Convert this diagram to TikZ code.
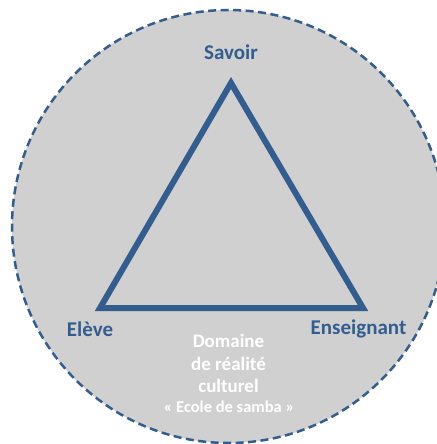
\documentclass[tikz,border=0pt]{standalone}
\usepackage{fontspec}
\setmainfont{Carlito}
\definecolor{dblue}{RGB}{51,93,143}
\definecolor{bgray}{RGB}{208,208,208}
\tikzset{
  lbl/.style={text=dblue, font=\fontsize{21}{25}\selectfont\bfseries, inner sep=0pt},
  domtext/.style={text=white, font=\fontsize{19}{22.5}\selectfont\bfseries, align=center, inner sep=0pt},
  tri/.style={draw=dblue, line width=6pt, line join=miter},
  ring/.style={draw=dblue, fill=bgray, line width=2.5pt, dash pattern=on 8pt off 4.5pt}
}
\begin{document}
\begin{tikzpicture}[x=1pt,y=-1pt]
\useasboundingbox (0,0) rectangle (436,444);
\path[ring] (228.5,226.5) circle (216.5);
\coordinate (S) at (231,83);
\coordinate (E) at (100,308);
\coordinate (T) at (363,308);
\draw[tri] (S) -- (E) -- (T) -- cycle;
\node[lbl] (savoir) at (231,52) {Savoir};
\node[lbl] (eleve) at (90,329) {Elève};
\node[lbl] (ens) at (358.5,329) {Enseignant};
\node[domtext] (dom) at (228.5,363.5) {Domaine\\de réalité\\culturel};
\node[text=white, font=\fontsize{16.5}{18}\selectfont\bfseries, inner sep=0pt] (ecole) at (229,407) {« Ecole de samba »};
\end{tikzpicture}
\end{document}
